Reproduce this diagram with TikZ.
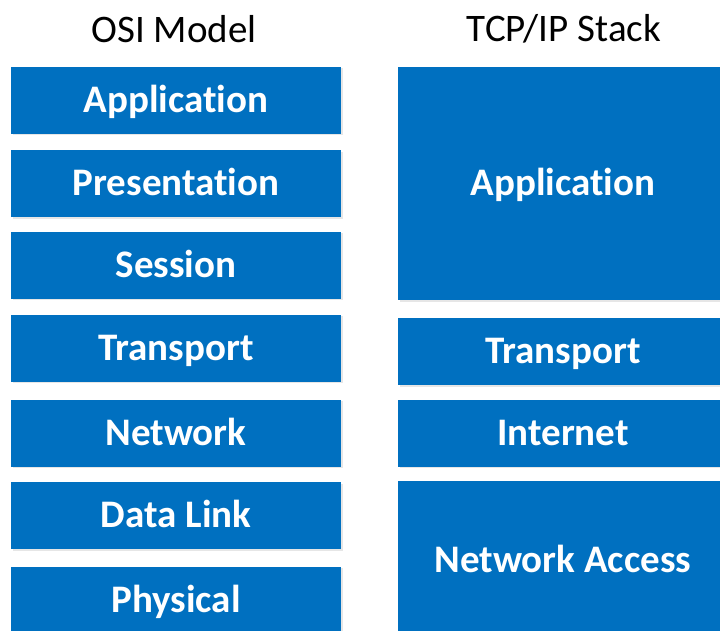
\documentclass[tikz,border=0pt]{standalone}
\usepackage{fontspec}
\setmainfont{Carlito}[Ligatures=NoCommon]
\usetikzlibrary{positioning,shadows}

\definecolor{layerblue}{HTML}{0070C0}

\begin{document}
\begin{tikzpicture}[x=1pt, y=-1pt,
    layer/.style={fill=layerblue, draw=none, text=white, font=\fontsize{39}{44}\selectfont\bfseries,
        minimum width=330pt, minimum height=67pt, inner sep=0pt, text height=24pt, text depth=0pt,
        drop shadow={opacity=0.2, shadow xshift=1.5pt, shadow yshift=-1.5pt}},
    heading/.style={font=\fontsize{39}{44}\selectfont, text=black}]
    \useasboundingbox (0,0) rectangle (720,630);

    % Column headings
    \node[heading] (osititle) at (174,29) {OSI Model};
    \node[heading] (tcptitle) at (564,29) {TCP/IP Stack};

    % OSI layers
    \node[layer] (oapp) at (176,100) {Application};
    \node[layer] (opres) at (176,183.5) {Presentation};
    \node[layer] (osess) at (176,265) {Session};
    \node[layer] (otrans) at (176,348) {Transport};
    \node[layer] (onet) at (176,433) {Network};
    \node[layer] (olink) at (176,515.5) {Data Link};
    \node[layer] (ophys) at (176,600) {Physical};

    % TCP/IP layers
    \node[layer, minimum height=233pt] (tapp) at (563,183.5) {Application};
    \node[layer] (ttrans) at (563,351.5) {Transport};
    \node[layer] (tinet) at (563,433) {Internet};
    \node[layer, minimum height=159pt] (tacc) at (563,560.5) {Network Access};
\end{tikzpicture}
\end{document}
